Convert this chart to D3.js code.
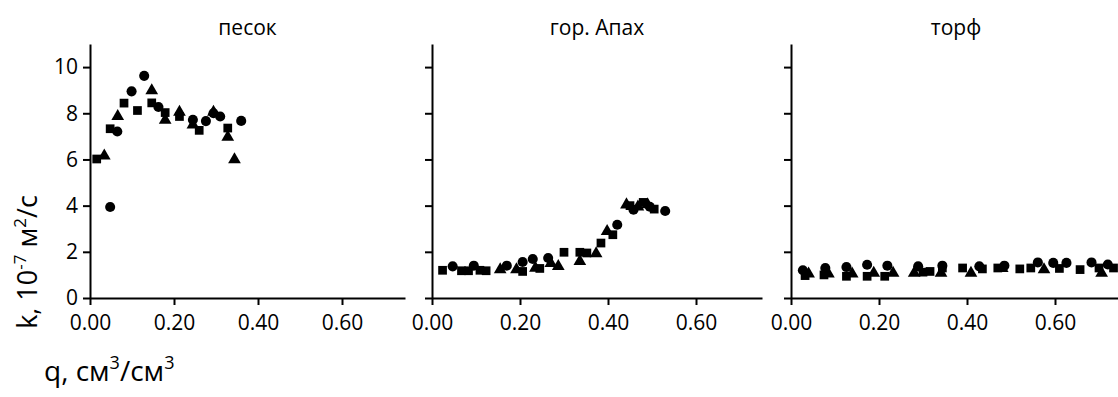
<!DOCTYPE html>
<html>
<head>
<meta charset="utf-8">
<script src="https://cdn.jsdelivr.net/npm/d3@7"></script>
<style>
  body { margin: 0; background: #fff; }
  svg { display: block; }
  text { font-family: "Open Sans", sans-serif; fill: #000; }
</style>
</head>
<body>
<svg id="chart" width="1118" height="397"></svg>
<script>
// Panel titles and axis ticks
const panelTitles = ["песок", "гор. Апах", "торф"];
const xTicks = [0, 0.2, 0.4, 0.6];
const yTicks = [0, 2, 4, 6, 8, 10];

// песок: [q, k]
const sandCircle = [[0.048, 3.94], [0.065, 7.21], [0.099, 8.95], [0.129, 9.62], [0.163, 8.27],
  [0.245, 7.72], [0.276, 7.66], [0.294, 8.00], [0.310, 7.86], [0.360, 7.67]];
const sandSquare = [[0.016, 6.02], [0.048, 7.33], [0.081, 8.44], [0.113, 8.12], [0.147, 8.45],
  [0.179, 8.03], [0.213, 7.86], [0.260, 7.26], [0.328, 7.36]];
const sandTriangle = [[0.034, 6.16], [0.066, 7.87], [0.147, 8.98], [0.179, 7.70], [0.213, 8.05],
  [0.245, 7.50], [0.294, 8.05], [0.328, 6.97], [0.344, 5.99]];

// гор. Апах
const apCircle = [[0.047, 1.37], [0.095, 1.40], [0.170, 1.40], [0.206, 1.56], [0.229, 1.69],
  [0.264, 1.73], [0.421, 3.17], [0.458, 3.82], [0.495, 3.95], [0.530, 3.77]];
const apSquare = [[0.024, 1.20], [0.067, 1.18], [0.083, 1.18], [0.109, 1.20], [0.123, 1.18],
  [0.206, 1.15], [0.245, 1.28], [0.300, 1.98], [0.336, 1.98], [0.352, 1.95], [0.384, 2.38],
  [0.411, 2.74], [0.450, 4.00], [0.480, 4.14], [0.505, 3.85]];
const apTriangle = [[0.155, 1.23], [0.192, 1.23], [0.235, 1.30], [0.270, 1.50], [0.287, 1.37],
  [0.336, 1.59], [0.373, 1.92], [0.398, 2.89], [0.442, 4.04], [0.468, 3.95], [0.490, 4.05]];

// торф
const peatCircle = [[0.027, 1.20], [0.078, 1.30], [0.126, 1.34], [0.173, 1.44], [0.219, 1.40],
  [0.289, 1.37], [0.344, 1.40], [0.428, 1.37], [0.485, 1.40], [0.561, 1.54], [0.596, 1.52],
  [0.626, 1.52], [0.683, 1.54], [0.720, 1.45]];
const peatSquare = [[0.032, 0.97], [0.075, 1.00], [0.126, 0.94], [0.173, 0.94], [0.213, 0.94],
  [0.300, 1.12], [0.316, 1.15], [0.344, 1.30], [0.390, 1.30], [0.435, 1.26], [0.470, 1.30],
  [0.520, 1.26], [0.545, 1.30], [0.610, 1.28], [0.657, 1.23], [0.700, 1.30], [0.733, 1.30]];
const peatTriangle = [[0.040, 1.05], [0.085, 1.05], [0.139, 1.05], [0.188, 1.08], [0.232, 1.08],
  [0.280, 1.08], [0.341, 1.08], [0.409, 1.08], [0.480, 1.28], [0.575, 1.23], [0.706, 1.08]];

const svg = d3.select("#chart");
const plotTop = 44, plotBottom = 298;
const y = d3.scaleLinear().domain([0, 11]).range([plotBottom, plotTop]);

const panels = [
  { left: 90, width: 315, title: panelTitles[0], series: [sandCircle, sandSquare, sandTriangle], labels: true },
  { left: 432, width: 330, title: panelTitles[1], series: [apCircle, apSquare, apTriangle], labels: false },
  { left: 791, width: 330, title: panelTitles[2], series: [peatCircle, peatSquare, peatTriangle], labels: false }
];

const shapes = [
  d3.symbol().type(d3.symbolCircle).size(80),
  d3.symbol().type(d3.symbolSquare).size(76),
  d3.symbol().type(d3.symbolTriangle).size(70)
];

panels.forEach(p => {
  const x = d3.scaleLinear().domain([0, 0.75]).range([p.left, p.left + p.width]);
  const g = svg.append("g");

  // points
  p.series.forEach((data, i) => {
    g.append("g").selectAll("path").data(data).join("path")
      .attr("d", shapes[i])
      .attr("transform", d => `translate(${x(d[0])},${y(d[1])})`)
      .attr("fill", "#000");
  });

  // x axis
  const xa = g.append("g").attr("transform", `translate(0,${plotBottom})`)
    .call(d3.axisBottom(x).tickValues(xTicks).tickFormat(d3.format(".2f"))
      .tickSize(7).tickSizeOuter(0).tickPadding(10));
  // y axis
  const ya = g.append("g").attr("transform", `translate(${p.left},0)`)
    .call(d3.axisLeft(y).tickValues(yTicks).tickSize(7).tickSizeOuter(0).tickPadding(5));
  if (!p.labels) ya.selectAll("text").remove();

  [xa, ya].forEach(a => {
    a.select(".domain").attr("stroke", "#000").attr("stroke-width", 2);
    a.selectAll(".tick line").attr("stroke", "#000").attr("stroke-width", 2);
    a.selectAll("text").attr("font-size", 21).attr("font-family", "Open Sans").attr("fill", "#000");
  });

  // title
  svg.append("text")
    .attr("x", p.left + p.width / 2).attr("y", 35)
    .attr("text-anchor", "middle").attr("font-size", 21)
    .text(p.title);
});

// y axis title
const yt = svg.append("text")
  .attr("transform", "translate(37,262) rotate(-90)")
  .attr("text-anchor", "middle").attr("font-size", 27);
yt.append("tspan").text("k, 10");
yt.append("tspan").attr("baseline-shift", "super").attr("font-size", 17).text("-7");
yt.append("tspan").text(" м");
yt.append("tspan").attr("baseline-shift", "super").attr("font-size", 17).text("2");
yt.append("tspan").text("/с");

// x axis title
const xt = svg.append("text")
  .attr("x", 44).attr("y", 381).attr("font-size", 28);
xt.append("tspan").text("q, см");
xt.append("tspan").attr("baseline-shift", "super").attr("font-size", 18).text("3");
xt.append("tspan").text("/см");
xt.append("tspan").attr("baseline-shift", "super").attr("font-size", 18).text("3");
</script>
</body>
</html>
